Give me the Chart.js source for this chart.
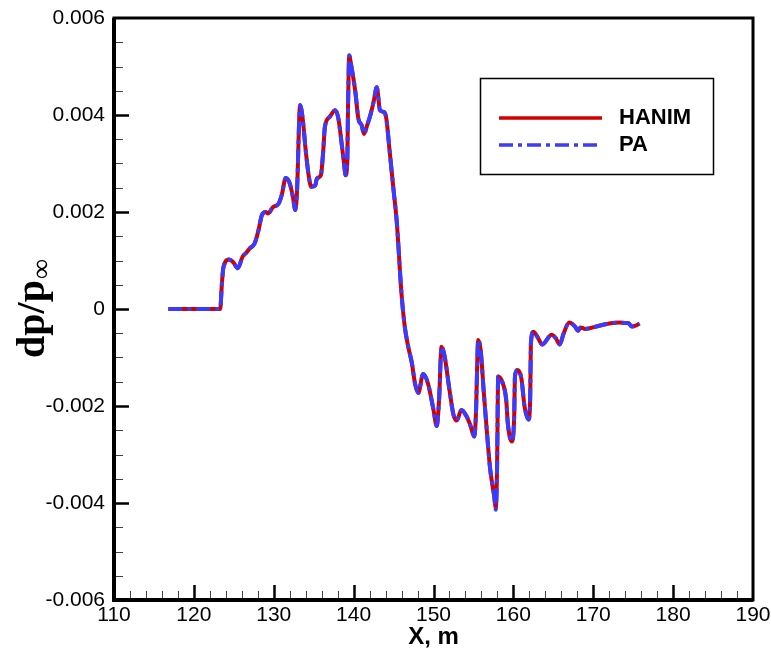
<!DOCTYPE html>
<html>
<head>
<meta charset="utf-8">
<script src="https://cdn.jsdelivr.net/npm/chart.js@4.4.1/dist/chart.umd.min.js"></script>
<style>
  html, body { margin: 0; padding: 0; background: #fff; }
</style>
</head>
<body>
<canvas id="myChart" width="771" height="652"></canvas>
<script>
// X position along the track, m
const xValues = [
  116.8, 120.0, 123.3, 123.5, 123.7, 124.4, 124.9, 125.5, 126.1, 126.5,
  127.0, 127.6, 128.1, 128.5, 129.0, 129.3, 129.9, 130.6, 131.0, 131.5,
  132.0, 132.4, 132.7, 132.9, 133.3, 133.6, 134.0, 134.4, 134.7, 135.2,
  135.4, 135.9, 136.2, 136.4, 137.0, 137.7, 138.1, 138.5, 138.8, 139.0,
  139.2, 139.3, 139.45, 139.7, 140.2, 140.6, 141.0, 141.3, 141.7, 142.1,
  142.5, 142.9, 143.3, 143.8, 144.1, 144.5, 145.0, 145.4, 146.0, 146.4,
  146.8, 147.3, 147.7, 148.1, 148.7, 149.3, 150.0, 150.4, 150.7, 151.0,
  151.4, 152.0, 152.5, 152.9, 153.5, 154.1, 154.6, 155.1, 155.3, 155.6,
  155.9, 156.3, 156.7, 157.1, 157.6, 157.8, 157.96, 158.1, 158.6, 159.1,
  159.3, 159.8, 160.1, 160.2, 160.5, 161.0, 161.4, 161.9, 162.1, 162.2,
  162.5, 163.1, 163.6, 164.8, 165.3, 165.8, 166.3, 167.0, 167.7, 168.1,
  168.4, 169.0, 170.4, 171.7, 173.3, 174.0, 174.4, 174.8, 175.2, 175.8
];

const hanimValues = [
  0, 0, 0, 0.0005, 0.00086, 0.00102, 0.00097, 0.00084, 0.00108, 0.00115,
  0.00125, 0.00135, 0.00163, 0.00193, 0.0020, 0.00197, 0.0021, 0.00217, 0.00235, 0.0027,
  0.00259, 0.00231, 0.00204, 0.00238, 0.0042, 0.00396, 0.00327, 0.00272, 0.00252, 0.00255,
  0.00269, 0.00276, 0.00327, 0.00375, 0.00396, 0.0041, 0.00392, 0.00341, 0.003, 0.00276,
  0.003, 0.00416, 0.00522, 0.00502, 0.0045, 0.00392, 0.00379, 0.00361, 0.00379, 0.004,
  0.00427, 0.00457, 0.0041, 0.00406, 0.00392, 0.00327, 0.00245, 0.0018, 0.0003, -0.00036,
  -0.00075, -0.00112, -0.00155, -0.00173, -0.00134, -0.00153, -0.00208, -0.00241, -0.00187, -0.00078,
  -0.00098, -0.00167, -0.00218, -0.0023, -0.00208, -0.0022, -0.00239, -0.00263, -0.00222, -0.00064,
  -0.00084, -0.00173, -0.00256, -0.00331, -0.00386, -0.00410, -0.00324, -0.00139, -0.0015, -0.00187,
  -0.00235, -0.00273, -0.00222, -0.00139, -0.00126, -0.00143, -0.00201, -0.00228, -0.00187, -0.0007,
  -0.00047, -0.0006, -0.00073, -0.00053, -0.0006, -0.00073, -0.0005, -0.00028, -0.00036, -0.00045,
  -0.00038, -0.00041, -0.00036, -0.00031, -0.00028, -0.00029, -0.00029, -0.00036, -0.00035, -0.0003
];

const paValues = [
  0, 0, 0, 0.0005, 0.00086, 0.00102, 0.00097, 0.00084, 0.00108, 0.00115,
  0.00125, 0.00135, 0.00163, 0.00193, 0.0020, 0.00197, 0.0021, 0.00217, 0.00235, 0.0027,
  0.00259, 0.00231, 0.00204, 0.00238, 0.0042, 0.00396, 0.00327, 0.00272, 0.00252, 0.00255,
  0.00269, 0.00276, 0.00327, 0.00375, 0.00396, 0.0041, 0.00392, 0.00341, 0.003, 0.00276,
  0.003, 0.00416, 0.00523, 0.00502, 0.0045, 0.00392, 0.00379, 0.00361, 0.00379, 0.004,
  0.00427, 0.00457, 0.0041, 0.00406, 0.00392, 0.00327, 0.00245, 0.0018, 0.0003, -0.00036,
  -0.00075, -0.00112, -0.00155, -0.00173, -0.00134, -0.00153, -0.00208, -0.00241, -0.00187, -0.00078,
  -0.00098, -0.00167, -0.00218, -0.0023, -0.00208, -0.0022, -0.00239, -0.00263, -0.00222, -0.00064,
  -0.00084, -0.00173, -0.00256, -0.00331, -0.00386, -0.00414, -0.00324, -0.00139, -0.0015, -0.00187,
  -0.00235, -0.00273, -0.00222, -0.00139, -0.00126, -0.00143, -0.00201, -0.00228, -0.00187, -0.0007,
  -0.00047, -0.0006, -0.00073, -0.00053, -0.0006, -0.00073, -0.0005, -0.00028, -0.00036, -0.00045,
  -0.00038, -0.00041, -0.00036, -0.00031, -0.00028, -0.00029, -0.00029, -0.00036, -0.00035, -0.0003
];

const seriesNames = ['HANIM', 'PA'];
const xRange = [110, 190];
const yRange = [-0.006, 0.006];
const xStep = 10, xMinor = 2;
const yStep = 0.002, yMinor = 0.0005;

const RED = '#d20000';
const BLUE = '#3b3bff';
const PA_DASH = [14, 5, 4, 5];

function pts(ys) {
  return xValues.map((x, i) => ({ x: x, y: ys[i] }));
}

// frame, inward ticks, legend box and axis titles (tecplot look)
const tecplotLook = {
  id: 'tecplotLook',
  afterDraw(chart) {
    const ctx = chart.ctx;
    const a = chart.chartArea;
    const xs = chart.scales.x, ys = chart.scales.y;
    ctx.save();

    // ticks on left and bottom, pointing inwards
    const nx = Math.round((xRange[1] - xRange[0]) / xMinor);
    for (let i = 1; i < nx; i++) {
      const v = xRange[0] + i * xMinor;
      const major = i % Math.round(xStep / xMinor) === 0;
      const px = Math.round(xs.getPixelForValue(v)) + 0.5;
      ctx.lineWidth = major ? 2.5 : 1;
      ctx.strokeStyle = major ? '#000' : '#444';
      ctx.beginPath();
      ctx.moveTo(px, a.bottom);
      ctx.lineTo(px, a.bottom - (major ? 15 : 9));
      ctx.stroke();
    }
    const ny = Math.round((yRange[1] - yRange[0]) / yMinor);
    for (let i = 1; i < ny; i++) {
      const v = yRange[0] + i * yMinor;
      const major = i % Math.round(yStep / yMinor) === 0;
      const py = Math.round(ys.getPixelForValue(v)) + 0.5;
      ctx.lineWidth = major ? 2.5 : 1;
      ctx.strokeStyle = major ? '#000' : '#444';
      ctx.beginPath();
      ctx.moveTo(a.left, py);
      ctx.lineTo(a.left + (major ? 15 : 9), py);
      ctx.stroke();
    }

    // frame
    ctx.strokeStyle = '#000';
    ctx.lineWidth = 3;
    ctx.strokeRect(a.left, a.top, a.right - a.left, a.bottom - a.top);
    ctx.lineWidth = 4;
    ctx.beginPath();
    ctx.moveTo(a.left, a.top);
    ctx.lineTo(a.left, a.bottom);
    ctx.lineTo(a.right, a.bottom);
    ctx.stroke();

    // legend
    const lx = 480, ly = 78, lw = 233, lh = 96;
    ctx.lineWidth = 1.5;
    ctx.strokeRect(lx + 0.5, ly + 0.5, lw, lh);
    const rows = [
      { name: seriesNames[0], color: RED, dash: [], y: ly + 40 },
      { name: seriesNames[1], color: BLUE, dash: PA_DASH, y: ly + 67 }
    ];
    ctx.font = 'bold 22px "Liberation Sans", Arial, sans-serif';
    ctx.textBaseline = 'middle';
    ctx.textAlign = 'left';
    rows.forEach(r => {
      ctx.strokeStyle = r.color;
      ctx.lineWidth = 3.5;
      ctx.setLineDash(r.dash);
      ctx.beginPath();
      ctx.moveTo(lx + 19, r.y);
      ctx.lineTo(lx + 122, r.y);
      ctx.stroke();
      ctx.setLineDash([]);
      ctx.fillStyle = '#000';
      ctx.fillText(r.name, lx + 139, r.y);
    });

    // x title
    ctx.font = 'bold 24px "Liberation Sans", Arial, sans-serif';
    ctx.textAlign = 'center';
    ctx.textBaseline = 'middle';
    ctx.fillText('X, m', (a.left + a.right) / 2, 637);

    // y title: dp/p with subscript infinity
    ctx.translate(44, (a.top + a.bottom) / 2);
    ctx.rotate(-Math.PI / 2);
    ctx.textBaseline = 'alphabetic';
    ctx.textAlign = 'left';
    const f1 = 'bold 40px "Liberation Serif", "Times New Roman", serif';
    const f2 = '28px "Liberation Serif", "Times New Roman", serif';
    ctx.font = f1;
    const w1 = ctx.measureText('dp/p').width;
    ctx.font = f2;
    const w2 = ctx.measureText('\u221E').width;
    const x0 = -(w1 + w2) / 2;
    ctx.font = f1;
    ctx.fillText('dp/p', x0, 0);
    ctx.font = f2;
    ctx.fillText('\u221E', x0 + w1 + 1, 6);

    ctx.restore();
  }
};

const ctx = document.getElementById('myChart');

new Chart(ctx, {
  type: 'line',
  data: {
    datasets: [
      {
        label: seriesNames[1],
        data: pts(paValues),
        borderColor: BLUE,
        borderWidth: 4,
        borderDash: PA_DASH,
        pointRadius: 0,
        cubicInterpolationMode: 'monotone',
        fill: false
      },
      {
        label: seriesNames[0],
        data: pts(hanimValues),
        borderColor: RED,
        borderWidth: 4,
        pointRadius: 0,
        cubicInterpolationMode: 'monotone',
        fill: false
      }
    ]
  },
  options: {
    responsive: false,
    animation: false,
    layout: { padding: { top: 18, right: 18, left: 0, bottom: 0 } },
    plugins: {
      legend: { display: false },
      tooltip: { enabled: false }
    },
    scales: {
      x: {
        type: 'linear',
        min: xRange[0],
        max: xRange[1],
        grid: { display: false, drawTicks: false },
        border: { display: false },
        ticks: {
          stepSize: xStep,
          autoSkip: false,
          maxRotation: 0,
          padding: 3,
          color: '#000',
          font: { family: '"Liberation Sans", Arial, sans-serif', size: 21 }
        },
        afterFit(s) {
          s.height = 52;
          s.paddingLeft = 0;
          s.paddingRight = 0;
        }
      },
      y: {
        min: yRange[0],
        max: yRange[1],
        grid: { display: false, drawTicks: false },
        border: { display: false },
        ticks: {
          stepSize: yStep,
          padding: 9,
          color: '#000',
          font: { family: '"Liberation Sans", Arial, sans-serif', size: 21 },
          callback: v => String(Math.round(v * 1000) / 1000)
        },
        afterFit(s) {
          s.width = 114;
          s.paddingTop = 0;
          s.paddingBottom = 0;
        }
      }
    }
  },
  plugins: [tecplotLook]
});
</script>
</body>
</html>
